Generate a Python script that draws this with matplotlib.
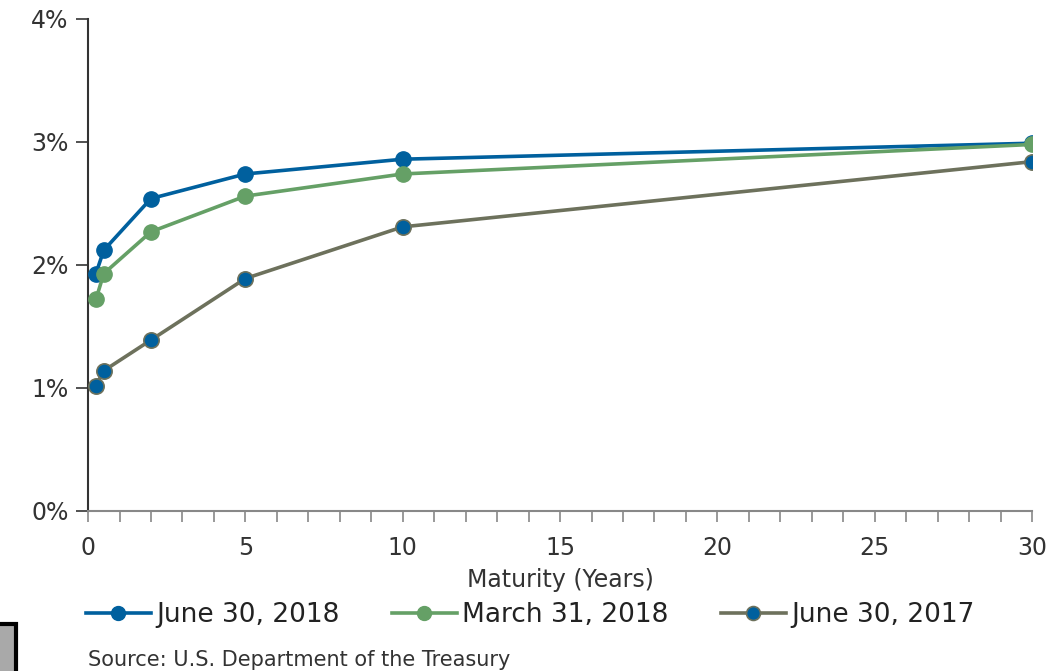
import matplotlib.pyplot as plt
from matplotlib.patches import Rectangle
from matplotlib.ticker import MultipleLocator, FuncFormatter

plt.rcParams['font.family'] = ['DejaVu Sans']

vencimientos = [0.25, 0.5, 2, 5, 10, 30]
curva_jun_2018 = [1.93, 2.12, 2.54, 2.74, 2.86, 2.99]
curva_mar_2018 = [1.72, 1.93, 2.27, 2.56, 2.74, 2.98]
curva_jun_2017 = [1.02, 1.14, 1.39, 1.89, 2.31, 2.84]

etiquetas = ['June 30, 2018', 'March 31, 2018', 'June 30, 2017']

azul = '#00609e'
verde = '#65a066'
oliva = '#6d715c'
texto = '#333333'

fig = plt.figure(figsize=(10.62, 6.71), dpi=100)
ax = fig.add_axes([0.0829, 0.2385, 0.8889, 0.7332])

ax.plot(vencimientos, curva_jun_2018, color=azul, lw=2.6, marker='o', ms=11,
        mfc=azul, mec=azul, label=etiquetas[0], zorder=3)
ax.plot(vencimientos, curva_mar_2018, color=verde, lw=2.6, marker='o', ms=11,
        mfc=verde, mec=verde, label=etiquetas[1], zorder=4)
ax.plot(vencimientos, curva_jun_2017, color=oliva, lw=2.6, marker='o', ms=11,
        mfc=azul, mec=oliva, mew=1.2, label=etiquetas[2], zorder=3)

ax.set_xlim(0, 30)
ax.set_ylim(0, 4)
ax.xaxis.set_major_locator(MultipleLocator(5))
ax.xaxis.set_minor_locator(MultipleLocator(1))
ax.yaxis.set_major_locator(MultipleLocator(1))
ax.yaxis.set_major_formatter(FuncFormatter(lambda v, p: f'{v:.0f}%'))

for s in ['top', 'right']:
    ax.spines[s].set_visible(False)
ax.spines['left'].set_color(texto)
ax.spines['left'].set_linewidth(1.5)
ax.spines['bottom'].set_color('#888888')
ax.spines['bottom'].set_linewidth(1.5)

ax.tick_params(axis='y', length=9, width=1.2, color=texto, labelsize=17,
               labelcolor=texto, pad=5)
ax.tick_params(axis='x', which='both', length=8, width=1.2, color='#888888',
               labelsize=17, labelcolor=texto, pad=10)

ax.set_xlabel('Maturity (Years)', fontsize=17, color=texto, labelpad=6)

leg = fig.legend(loc='upper left', bbox_to_anchor=(0.071, 0.118), ncol=3,
                 frameon=False, fontsize=19, handlelength=2.45, handletextpad=0.2,
                 columnspacing=2.0, borderaxespad=0, labelcolor='#222222')
for h in leg.legend_handles:
    h.set_markersize(10)

fig.text(0.083, 0.008, 'Source: U.S. Department of the Treasury', fontsize=15,
         color=texto)

fig.patches.append(Rectangle((-0.005, -0.01), 0.02, 0.08, transform=fig.transFigure,
                             facecolor='#a9a9a9', edgecolor='black', lw=3))

fig.savefig('out.png', dpi=100)
